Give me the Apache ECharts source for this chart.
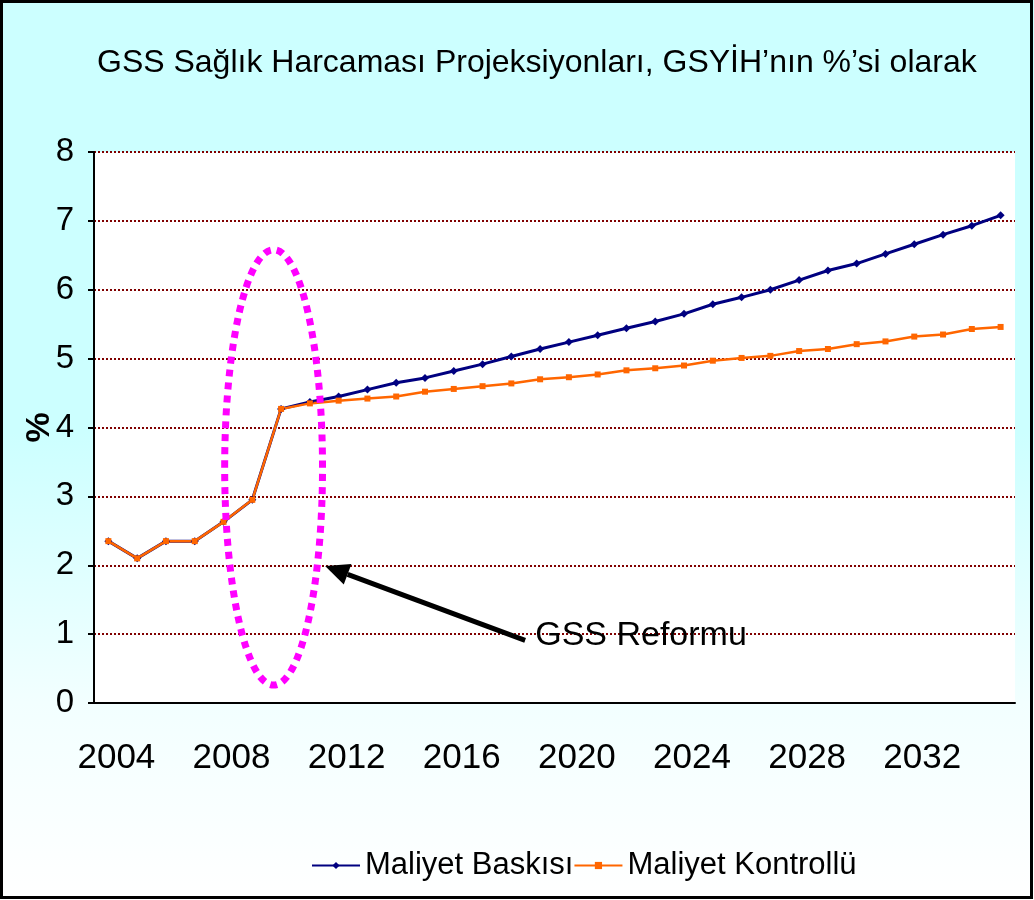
<!DOCTYPE html>
<html>
<head>
<meta charset="utf-8">
<script src="https://cdn.jsdelivr.net/npm/echarts@6/dist/echarts.min.js"></script>
<style>
  html, body { margin: 0; padding: 0; }
  #chart {
    width: 1034px; height: 900px;
    background: linear-gradient(to bottom, #ccffff 0%, #ccffff 48%, #f2ffff 78%, #ffffff 100%);
  }
</style>
</head>
<body>
<div id="chart"></div>
<script>
// yıllar ve seriler
const years = [];
for (let y = 2004; y <= 2035; y++) years.push(String(y));

const maliyetBaskisi = [
    2.35, 2.10, 2.35, 2.35, 2.63, 2.95, 4.27, 4.37, 4.45, 4.55,
    4.65, 4.72, 4.82, 4.92, 5.03, 5.14, 5.24, 5.34, 5.44, 5.54,
    5.65, 5.79, 5.89, 6.00, 6.14, 6.28, 6.38, 6.52, 6.66, 6.80,
    6.93, 7.08
];
const maliyetKontrollu = [
    2.35, 2.10, 2.35, 2.35, 2.63, 2.95, 4.27, 4.35, 4.39, 4.42,
    4.45, 4.52, 4.56, 4.60, 4.64, 4.70, 4.73, 4.77, 4.83, 4.86,
    4.90, 4.97, 5.01, 5.04, 5.11, 5.14, 5.21, 5.25, 5.32, 5.35,
    5.43, 5.46
];
const seriesNames = ['Maliyet Baskısı', 'Maliyet Kontrollü'];
const titleText = 'GSS Sağlık Harcaması Projeksiyonları, GSYİH’nın %’si olarak';
const noteText = 'GSS Reformu';

const FONT = '"Liberation Sans", Arial, sans-serif';

const chart = echarts.init(document.getElementById('chart'));

chart.setOption({
    backgroundColor: 'transparent',
    animation: false,
    title: {
        text: titleText,
        left: 92,
        top: 42,
        textStyle: { fontFamily: FONT, fontSize: 32, fontWeight: 'normal', color: '#000' }
    },
    legend: {
        data: seriesNames,
        left: 306,
        top: 845,
        itemWidth: 48,
        itemHeight: 9,
        itemGap: 0,
        textStyle: { fontFamily: FONT, fontSize: 31, color: '#000' }
    },
    grid: {
        left: 94, right: 19, top: 152, bottom: 197,
        show: true, backgroundColor: '#ffffff', borderWidth: 0
    },
    xAxis: {
        type: 'category',
        data: years,
        boundaryGap: true,
        axisLine: { lineStyle: { color: '#000', width: 2 } },
        axisTick: { interval: 0, length: 8, lineStyle: { color: '#000', width: 2 } },
        axisLabel: {
            interval: 3, margin: 38, padding: [0, 0, 0, 16],
            fontFamily: FONT, fontSize: 35, color: '#000'
        },
        splitLine: { show: false }
    },
    yAxis: {
        type: 'value',
        min: 0, max: 8, interval: 1,
        name: '%',
        nameLocation: 'middle',
        nameRotate: 90,
        nameGap: 37,
        nameMoveOverlap: false,
        nameTextStyle: { fontFamily: FONT, fontSize: 34, fontWeight: 'bold', color: '#000' },
        axisLine: { show: true, lineStyle: { color: '#000', width: 2 } },
        axisTick: { show: true, length: 6, lineStyle: { color: '#000', width: 2 } },
        axisLabel: { margin: 20, fontFamily: FONT, fontSize: 33, color: '#000' },
        splitLine: { lineStyle: { color: '#800000', width: 2, type: [2, 2] } }
    },
    series: [
        {
            name: seriesNames[0],
            type: 'line',
            data: maliyetBaskisi,
            symbol: 'diamond',
            symbolSize: 8,
            lineStyle: { color: '#000080', width: 3 },
            itemStyle: { color: '#000080' }
        },
        {
            name: seriesNames[1],
            type: 'line',
            data: maliyetKontrollu,
            symbol: 'rect',
            symbolSize: 6,
            lineStyle: { color: '#ff6600', width: 2.5 },
            itemStyle: { color: '#ff6600' }
        }
    ]
});

// not: elips, ok ve yazı veri koordinatlarından yerleştiriliyor
const px = (idx, val) => {
    const a = chart.convertToPixel({ gridIndex: 0 }, [years[0], val]);
    const b = chart.convertToPixel({ gridIndex: 0 }, [years[1], val]);
    return [a[0] + (b[0] - a[0]) * idx, a[1]];
};

const ellC = px(5.74, 3.42);
const ellTop = px(5.74, 6.58);
const ellSide = px(5.74 + 1.7, 3.42);
const tip = px(7.53, 1.99);
const tail = px(14.48, 0.91);
const txt = px(14.83, 0.98);

const ang = Math.atan2(tip[1] - tail[1], tip[0] - tail[0]);
const headLen = 24, headW = 11;
const base = [tip[0] - headLen * Math.cos(ang), tip[1] - headLen * Math.sin(ang)];
const nx = -Math.sin(ang), ny = Math.cos(ang);

chart.setOption({
    graphic: [
        {
            type: 'ellipse',
            shape: { cx: ellC[0], cy: ellC[1], rx: ellSide[0] - ellC[0], ry: ellC[1] - ellTop[1] },
            style: { fill: 'none', stroke: '#ff00ff', lineWidth: 7, lineDash: [7, 6] },
            z: 10
        },
        {
            type: 'line',
            shape: { x1: tail[0], y1: tail[1], x2: base[0], y2: base[1] },
            style: { stroke: '#000', lineWidth: 5 },
            z: 10
        },
        {
            type: 'polygon',
            shape: { points: [tip, [base[0] + nx * headW, base[1] + ny * headW], [base[0] - nx * headW, base[1] - ny * headW]] },
            style: { fill: '#000' },
            z: 10
        },
        {
            type: 'text',
            x: txt[0], y: txt[1],
            style: { text: noteText, fontFamily: FONT, fontSize: 34, fill: '#000', verticalAlign: 'middle' },
            z: 10
        },
        {
            type: 'rect',
            shape: { x: 1.5, y: 1.5, width: 1030, height: 896 },
            style: { fill: 'none', stroke: '#000', lineWidth: 3 },
            z: 20
        }
    ]
});
</script>
</body>
</html>
